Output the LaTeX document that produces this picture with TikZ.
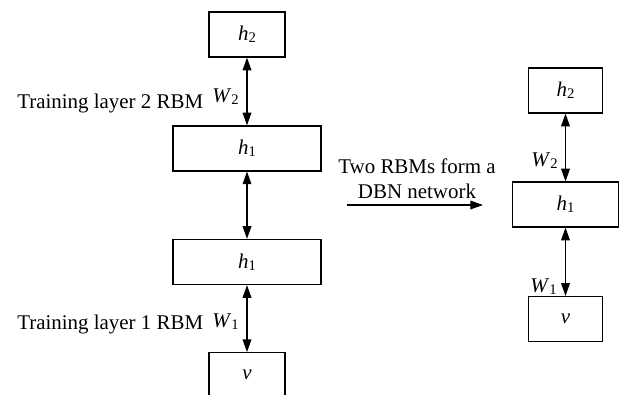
\documentclass[tikz,border=0pt]{standalone}
\usepackage{fontspec}
\setmainfont{Liberation Serif}
\usetikzlibrary{arrows.meta}
\newcommand\mvar[2]{\textit{#1}\raisebox{-0.25ex}{\fontsize{11pt}{12pt}\selectfont #2}}
\begin{document}
\begin{tikzpicture}[x=0.75pt,y=-0.75pt,
  every node/.style={font=\fontsize{15.7pt}{19pt}\selectfont},
  layer/.style={draw,line width=0.9pt,minimum height=33.75pt,inner sep=0pt},
  narrow/.style={layer,minimum width=57pt},
  wide/.style={layer,minimum width=111pt},
  lbl/.style={inner sep=0pt},
  link/.style={line width=0.9pt,{Triangle[length=9.5pt,width=6.5pt]}-{Triangle[length=9.5pt,width=6.5pt]}},
  flow/.style={line width=0.9pt,-{Triangle[length=9.5pt,width=6.5pt]}}]
\useasboundingbox (0,0) rectangle (621,394);

% stacked RBMs trained layer by layer
\node[narrow] (lh2) at (247,34.5) {\mvar{h}{2}};
\node[wide] (lh1a) at (247,148.4) {\mvar{h}{1}};
\node[wide] (lh1b) at (247,262) {\mvar{h}{1}};
\node[narrow] (lv) at (247,375.2) {\textit{v}};
\draw[link] (lh2) -- (lh1a);
\draw[link] (lh1a) -- (lh1b);
\draw[link] (lh1b) -- (lv);
\node[lbl,anchor=base west] (t2) at (17,108) {Training layer 2 RBM};
\node[lbl,anchor=base east] (lw2) at (239,102) {\mvar{W}{2}};
\node[lbl,anchor=base west] (t1) at (17,329) {Training layer 1 RBM};
\node[lbl,anchor=base east] (lw1) at (239,327) {\mvar{W}{1}};

% transition to the assembled network
\node[lbl,anchor=base] (c1) at (417,173) {Two RBMs form a};
\node[lbl,anchor=base] (c2) at (417,198) {DBN network};
\coordinate (a0) at (347,205);
\coordinate (a1) at (483,205);
\draw[flow] (a0) -- (a1);

% resulting DBN
\node[layer,minimum width=55pt] (rh2) at (565.5,90.5) {\mvar{h}{2}};
\node[layer,minimum width=79pt] (rh1) at (565.5,204.5) {\mvar{h}{1}};
\node[layer,minimum width=55pt] (rv) at (565.5,319) {\textit{v}};
\draw[link] (rh2) -- (rh1);
\draw[link] (rh1) -- (rv);
\node[lbl,anchor=base east] (rw2) at (558,166) {\mvar{W}{2}};
\node[lbl,anchor=base east] (rw1) at (557,292) {\mvar{W}{1}};
\end{tikzpicture}
\end{document}
